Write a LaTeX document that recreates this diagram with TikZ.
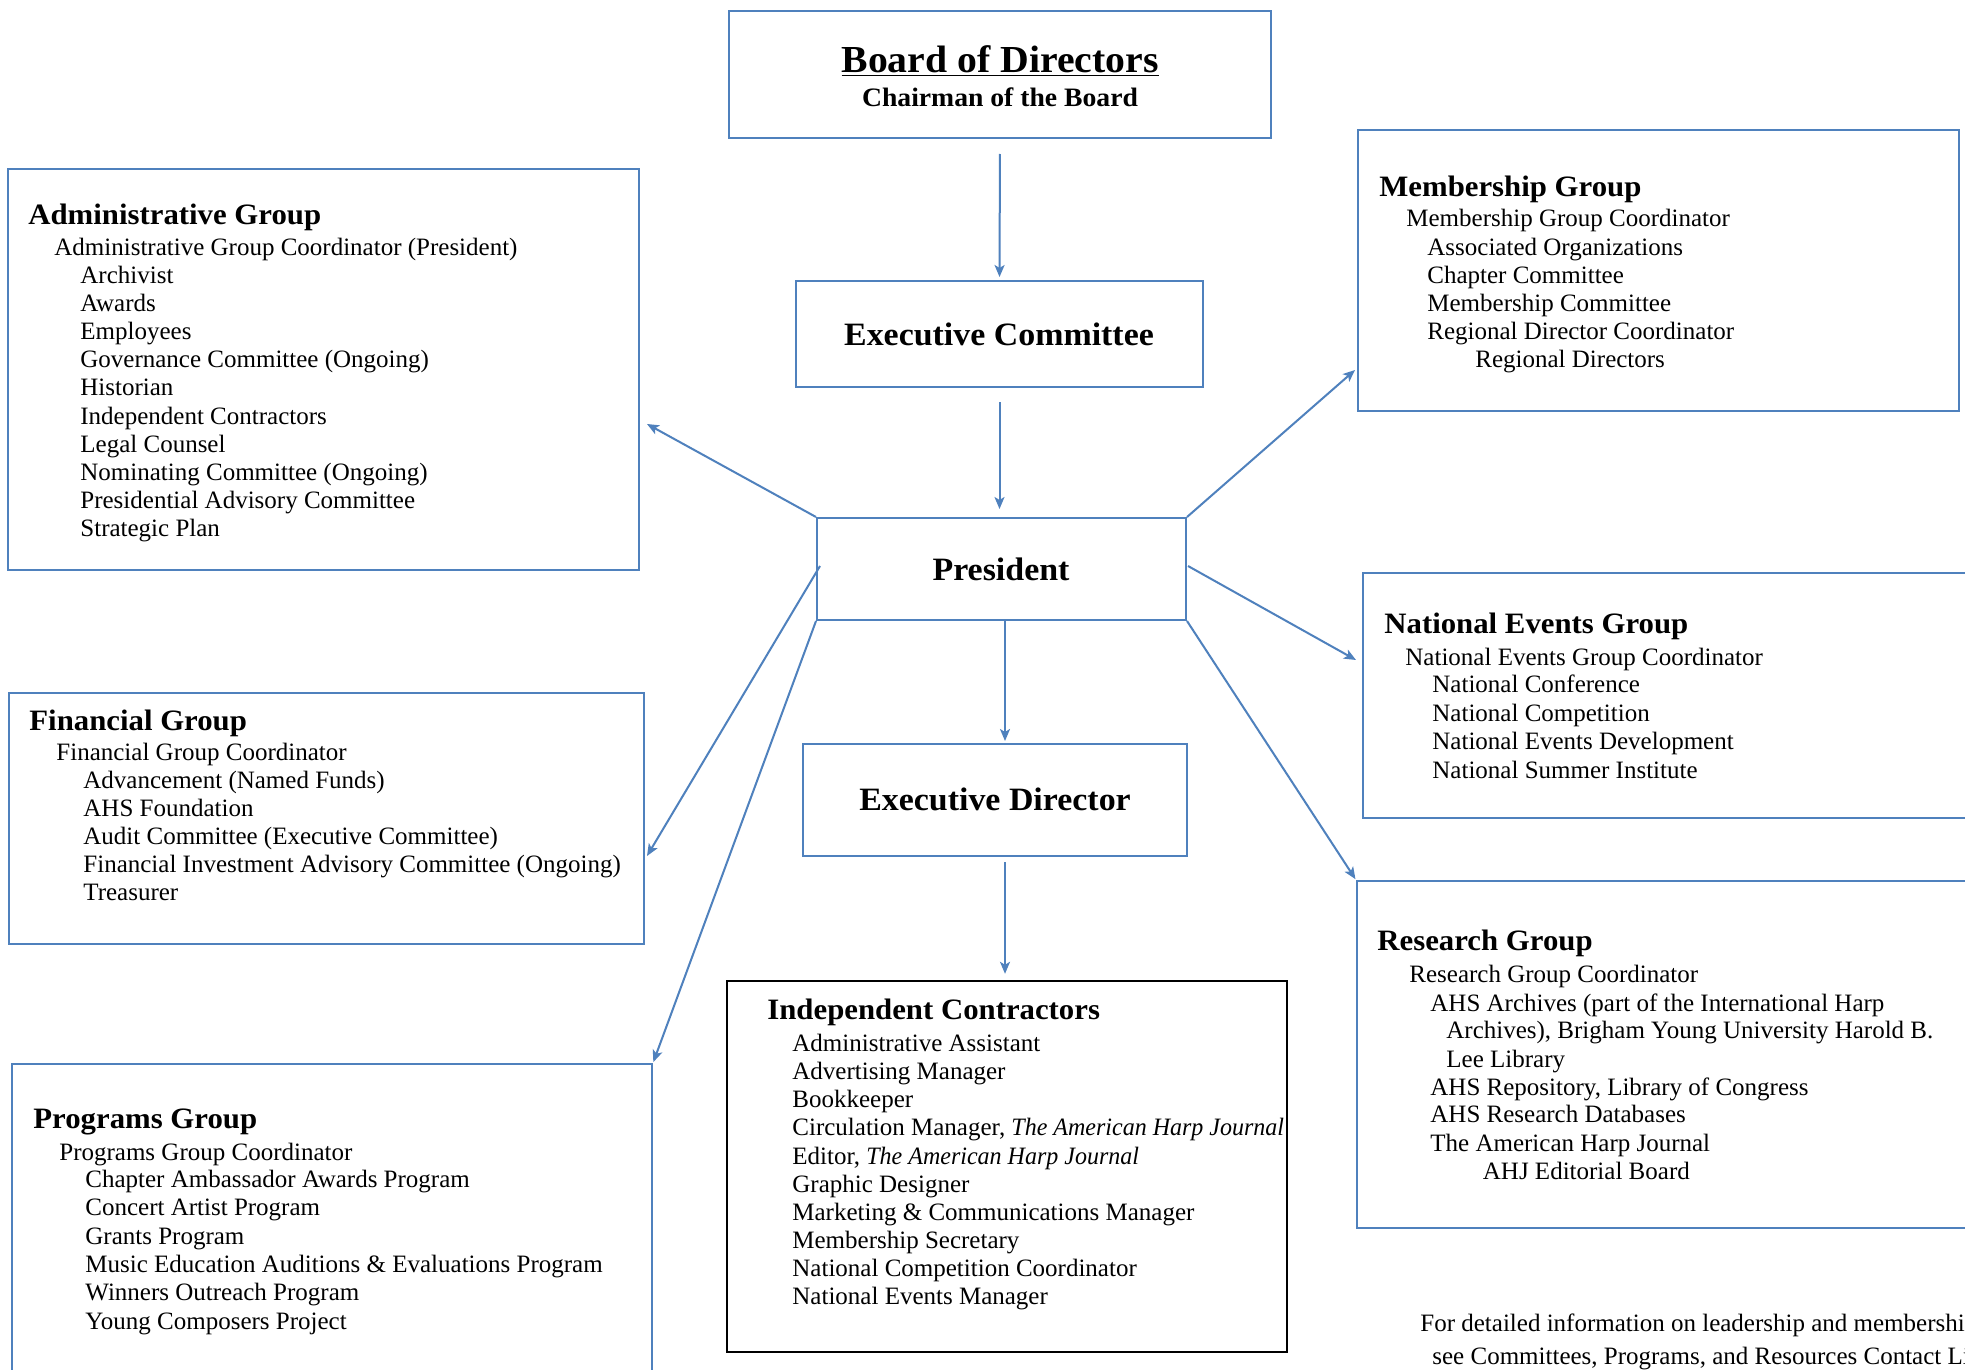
\documentclass[tikz,border=0pt]{standalone}
\usepackage{fontspec}
\setmainfont{Liberation Serif}[BoldFeatures={FakeStretch=1.04},ItalicFeatures={FakeStretch=0.96}]
\usetikzlibrary{arrows.meta,fit,calc}
\definecolor{wblue}{RGB}{79,129,189}
\tikzset{
 box/.style={draw=wblue, line width=1pt, inner sep=0pt},
 blackbox/.style={draw=black, line width=1.2pt, inner sep=0pt},
 arr/.style={draw=wblue, line width=1pt, -{Stealth[length=6pt,width=5pt,inset=1.5pt]}},
 gtitle/.style={anchor=mid west, inner sep=0pt, yshift=-2pt, font=\fontsize{14.8}{17}\selectfont\bfseries},
 gline/.style={anchor=mid west, inner sep=0pt, yshift=-2pt, font=\fontsize{12.5}{15}\selectfont},
 ctitle/.style={anchor=mid, inner sep=0pt, yshift=-2pt, font=\fontsize{16.3}{19}\selectfont\bfseries},
}
\begin{document}
\begin{tikzpicture}[x=0.5pt,y=-0.5pt]
\clip (0,0) rectangle (1965,1370);
\fill[white] (0,0) rectangle (1965,1370);

% ---- boxes ----
\node[box, fit={(729,11) (1271,138)}] (board) {};
\node[box, fit={(796,281) (1203,387)}] (ec) {};
\node[box, fit={(817,518) (1186,620)}] (pres) {};
\node[box, fit={(803,744) (1187,856)}] (ed) {};
\node[blackbox, fit={(727,981) (1287,1352)}] (ic) {};
\node[box, fit={(8,169) (639,570)}] (admin) {};
\node[box, fit={(9,693) (644,944)}] (fin) {};
\node[box, fit={(12,1064) (652,1420)}] (prog) {};
\node[box, fit={(1358,130) (1959,411)}] (mem) {};
\node[box, fit={(1363,573) (2020,818)}] (ne) {};
\node[box, fit={(1357,881) (2020,1228)}] (res) {};

% ---- central texts ----
\node[anchor=mid, inner sep=0pt, yshift=-3pt, font=\fontsize{19.1}{22}\selectfont\bfseries] (boardT) at (1000,62) {\underline{Board of Directors}};
\node[anchor=mid, inner sep=0pt, yshift=-2pt, font=\fontsize{13.3}{15}\selectfont\bfseries] (boardS) at (1000,98) {Chairman of the Board};
\node[ctitle] (ecT) at (999,337) {Executive Committee};
\node[ctitle] (presT) at (1001,572) {President};
\node[ctitle] (edT) at (995,802) {Executive Director};

% ---- Administrative Group ----
\node[gtitle] (admT) at (28,216) {Administrative Group};
\node[gline] (admC) at (54,247) {Administrative Group Coordinator (President)};
\foreach \t [count=\i from 0] in {Archivist, Awards, Employees, Governance Committee (Ongoing), Historian, Independent Contractors, Legal Counsel, Nominating Committee (Ongoing), Presidential Advisory Committee, Strategic Plan}
  \node[gline] (adm-\i) at (80,274.5+28.2*\i) {\t};

% ---- Financial Group ----
\node[gtitle] (finT) at (29,722) {Financial Group};
\node[gline] (finC) at (56,752) {Financial Group Coordinator};
\foreach \t [count=\i from 0] in {Advancement (Named Funds), AHS Foundation, Audit Committee (Executive Committee), Financial Investment Advisory Committee (Ongoing), Treasurer}
  \node[gline] (fin-\i) at (83,779.5+28.2*\i) {\t};

% ---- Programs Group ----
\node[gtitle] (progT) at (33,1120) {Programs Group};
\node[gline] (progC) at (59,1152) {Programs Group Coordinator};
\foreach \t [count=\i from 0] in {Chapter Ambassador Awards Program, Concert Artist Program, Grants Program, Music Education Auditions \& Evaluations Program, Winners Outreach Program, Young Composers Project}
  \node[gline] (prog-\i) at (85,1179+28.3*\i) {\t};

% ---- Membership Group ----
\node[gtitle] (memT) at (1379,188) {Membership Group};
\node[gline] (memC) at (1406,218) {Membership Group Coordinator};
\foreach \t [count=\i from 0] in {Associated Organizations, Chapter Committee, Membership Committee, Regional Director Coordinator}
  \node[gline] (mem-\i) at (1427,247+28*\i) {\t};
\node[gline] (memR) at (1475,358.5) {Regional Directors};

% ---- National Events Group ----
\node[gtitle] (neT) at (1384,625) {National Events Group};
\node[gline] (neC) at (1405,657) {National Events Group Coordinator};
\foreach \t [count=\i from 0] in {National Conference, National Competition, National Events Development, National Summer Institute}
  \node[gline] (ne-\i) at (1432,684+28.5*\i) {\t};

% ---- Research Group ----
\node[gtitle] (resT) at (1377,942) {Research Group};
\node[gline] (resC) at (1409,974) {Research Group Coordinator};
\node[gline] (res-1) at (1430,1002.5) {AHS Archives (part of the International Harp};
\node[gline] (res-2) at (1446,1030) {Archives), Brigham Young University Harold B.};
\node[gline] (res-3) at (1446,1059) {Lee Library};
\node[gline] (res-4) at (1430,1086.5) {AHS Repository, Library of Congress};
\node[gline] (res-5) at (1430,1114) {AHS Research Databases};
\node[gline] (res-6) at (1430,1143) {The American Harp Journal};
\node[gline] (res-7) at (1482.5,1170.5) {AHJ Editorial Board};

% ---- Independent Contractors ----
\node[gtitle] (icT) at (767,1011) {Independent Contractors};
\foreach \t [count=\i from 0] in {Administrative Assistant, Advertising Manager, Bookkeeper, {Circulation Manager, \textit{The American Harp Journal}}, {Editor, \textit{The American Harp Journal}}, Graphic Designer, Marketing \& Communications Manager, Membership Secretary, National Competition Coordinator, National Events Manager}
  \node[gline] (ic-\i) at (792,1043+28.1*\i) {\t};

% ---- footer ----
\node[gline] (foot1) at (1420,1323) {For detailed information on leadership and membership,};
\node[gline] (foot2) at (1432,1356) {see Committees, Programs, and Resources Contact List.};

% ---- connectors ----
\coordinate (tipAdm) at (647,424);
\coordinate (tipFin) at (647,856);
\coordinate (tipMem) at (1355,370);
\coordinate (tipNE) at (1356,660);
\coordinate (srcFin) at (820,566);
\coordinate (srcNE) at (1188,566);
\draw[arr, shorten <=7.5pt, shorten >=1.5pt] (board.south) -- (ec.north);
\draw[arr, shorten <=7pt, shorten >=4pt] (ec.south) -- (ec.south |- pres.north);
\draw[arr, shorten >=1pt] (pres.south) ++(3.5,0) coordinate (srcED) -- (srcED |- ed.north);
\draw[arr, shorten <=2.5pt, shorten >=3pt] (ed.south) ++(10,0) coordinate (srcIC) -- (srcIC |- ic.north);
\draw[arr] (pres.north west) -- (tipAdm);
\draw[arr] (srcFin) -- (tipFin);
\draw[arr, shorten >=0.5pt] (pres.south west) -- (prog.north east);
\draw[arr] (pres.north east) -- (tipMem);
\draw[arr] (srcNE) -- (tipNE);
\draw[arr, shorten >=0.5pt] (pres.south east) -- (res.north west);
\end{tikzpicture}
\end{document}
